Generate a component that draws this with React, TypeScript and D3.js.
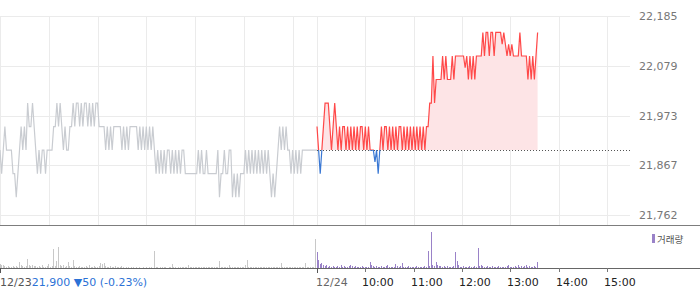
import React from 'react';
import * as d3 from 'd3';

const W = 700;
const H = 289;

const yTickValues = [21762, 21867.75, 21973.5, 22079.25, 22185];
const yTickLabels = ['21,762', '21,867', '21,973', '22,079', '22,185'];
const basePrice = 21900;
const intervalMin = 2;

const prevDateLabel = '12/23';
const todayDateLabel = '12/24';
const closeText = '21,900';
const changeText = ' \u25BC50 (-0.23%)';
const hourLabels = ['10:00', '11:00', '12:00', '13:00', '14:00', '15:00'];
const legendLabel = '거래량';

// 12/23 prices, one point every 2 minutes from 9:00 to 15:30
const prevPrices = [
  21900, 21850, 21900, 21950, 21900, 21900, 21900, 21900, 21850, 21850, 21800,
  21850, 21900, 21950, 21900, 21950, 21900, 22000, 21950, 21950, 22000, 21950, 21900,
  21850, 21900, 21850, 21900, 21900, 21850, 21900, 21900, 21900, 21900, 21950, 21950,
  22000, 21950, 22000, 21950, 21900, 21950, 21900, 21900, 21950, 21950,
  22000, 21950, 22000, 22000, 21950, 22000, 21950, 22000, 22000, 21950, 22000, 21950, 22000, 21950, 22000, 22000,
  21950, 21950, 21950, 21950,
  21900, 21950, 21900, 21950, 21900, 21950,
  21950, 21950, 21950, 21950,
  21900, 21950, 21900, 21950, 21900,
  21950, 21950, 21950, 21950, 21950,
  21900, 21950, 21900, 21950, 21900, 21950, 21900, 21950, 21900, 21950,
  21900,
  21850, 21900, 21850, 21900, 21850, 21900, 21850, 21900, 21900, 21850, 21900, 21850, 21900, 21850, 21900, 21850, 21900, 21900, 21850,
  21850, 21850, 21850, 21850, 21850, 21850, 21850,
  21900, 21850, 21900, 21850, 21850, 21900, 21850, 21850,
  21850, 21850, 21850, 21850,
  21900, 21800, 21850,
  21850, 21900, 21850, 21850, 21900,
  21900, 21800, 21850, 21800,
  21850, 21800, 21850,
  21850, 21850,
  21900, 21850, 21900, 21850, 21900, 21850, 21900, 21850, 21900, 21850, 21900, 21850, 21900, 21850, 21900,
  21850,
  21800, 21850, 21800, 21850, 21900,
  21950, 21900, 21950, 21900, 21950, 21900, 21900,
  21850, 21900, 21850, 21900, 21850, 21900, 21850, 21900, 21900, 21900,
  21900, 21900, 21900, 21900, 21900, 21900, 21900,
];

const prevVolumes = [
  4, 3, 3, 2, 1, 2, 1, 1, 2, 1, 2, 1,
  6, 3, 2, 1, 2,
  9, 3, 2, 3, 2, 2, 1, 2, 1, 3, 1, 1, 2,
  4, 1, 2, 19, 2, 7, 21, 3, 2, 3, 1, 2,
  6, 2, 1, 8, 2, 1, 1, 2, 1, 1, 1, 2, 1,
  3, 1, 1, 2, 1, 1, 2, 5, 4, 5,
  2, 1, 1, 2, 1, 1, 2, 1, 1, 1, 2, 1,
  0, 1, 1, 0, 1, 1, 0, 1, 0, 1, 0, 1, 0, 1, 0, 1, 1, 0,
  17,
  1, 1, 0, 1, 1, 1, 1, 0, 1, 1, 4, 1, 1, 0, 1, 1, 1, 1, 1, 1,
  3,
  1, 1, 1, 1, 1, 1, 1, 1, 1, 1, 1, 1, 1, 1, 1, 1, 1, 1,
  7,
  1, 1, 1, 1, 1, 3, 1, 1, 1, 1, 1, 1, 1, 1, 1, 3,
  8,
  1, 1, 1, 1, 1, 1, 1, 1, 1, 1, 1, 1, 1, 1, 1, 1, 1, 1, 1, 1,
  5,
  1, 1, 1, 1, 1, 1, 1, 1, 1, 1, 1, 1, 1, 1,
  5,
  1, 1, 1, 1, 1,
  29,
  0,
];

// 12/24 prices, one point every 2 minutes from 9:00 to 13:34
const todayPrices = [
  21950, 21900,
  21850,
  21900, 21950,
  22000, 22000, 22000, 21950,
  21900, 21950,
  22000, 21950,
  21900, 21950, 21900, 21950, 21950, 21900, 21950, 21900, 21950, 21900, 21950, 21900, 21950, 21900, 21950, 21950, 21900, 21950, 21900, 21950,
  21900, 21900, 21900,
  21875, 21900, 21850,
  21900, 21950, 21900, 21950, 21950, 21900, 21950, 21900, 21950, 21900, 21950, 21900, 21950, 21950, 21900,
  21950, 21900, 21950, 21900, 21950, 21900, 21950, 21900, 21950, 21900, 21950, 21900, 21950, 21900, 21950,
  21950, 22000, 22000,
  22100,
  22000, 22050,
  22050, 22050, 22050,
  22100, 22050, 22100, 22050,
  22050, 22050,
  22100, 22050,
  22100, 22100, 22100, 22100, 22100, 22100,
  22075, 22100,
  22050, 22100, 22050, 22100, 22050, 22100,
  22100, 22100, 22100,
  22150, 22100, 22150, 22150, 22100, 22150, 22150, 22100, 22150, 22150, 22150,
  22150, 22125, 22150,
  22125, 22100, 22125, 22100, 22125,
  22100, 22100, 22100, 22100,
  22150,
  22100, 22100, 22100, 22100,
  22050, 22100, 22050, 22100, 22050,
  22100,
  22150,
];

const todayVolumes = [
  16, 8, 4, 5, 3, 2, 3, 1, 2, 1, 2, 1, 1, 2, 1,
  3, 1, 2, 1, 1, 2, 3, 2, 1, 2, 1, 1, 1, 2, 1, 1, 1, 1,
  6, 3, 2, 1, 2, 1, 1, 2, 1, 1, 2, 3, 1, 1, 1, 1,
  4, 2, 1, 2, 5, 1, 1, 1, 2, 1, 1, 1, 1, 2, 1, 1, 1, 1, 2, 1,
  17, 2, 36, 3, 2, 6, 3, 2, 2, 1, 2, 1, 2, 1, 1, 1, 2,
  16, 7, 3, 1, 1, 2, 1, 1, 1, 2, 1, 1, 2, 1,
  20, 2, 3, 2, 1, 1, 2, 1, 1, 2, 1, 1, 1, 2, 1, 1, 1, 1, 2,
  3, 1, 1, 1, 2, 1, 3, 1, 2, 1, 2, 3, 1, 2, 1, 1, 2, 1, 6,
];

const FONT = "'DejaVu Sans', sans-serif";

type Pt = { t: Date; p: number; v: number };

function buildSeries(day: number, prices: number[], vols: number[]): Pt[] {
  return prices.map((p, i) => ({
    t: new Date(2024, 11, day, 9, i * intervalMin),
    p,
    v: vols[i] ?? 0,
  }));
}

export default function App() {
  const prev = buildSeries(23, prevPrices, prevVolumes);
  const today = buildSeries(24, todayPrices, todayVolumes);

  const plotRight = 630;
  const xPrev = d3
    .scaleTime()
    .domain([new Date(2024, 11, 23, 9, 0), new Date(2024, 11, 23, 15, 30)])
    .range([0, 317]);
  const xToday = d3
    .scaleTime()
    .domain([new Date(2024, 11, 24, 9, 0), new Date(2024, 11, 24, 15, 30)])
    .range([317, 631]);

  const y = d3.scaleLinear().domain([21762, 22185]).range([215, 16]);
  const yVol = d3.scaleLinear().domain([0, 42]).range([268, 226]);
  const yBase = y(basePrice);

  const prevLine = d3
    .line<Pt>()
    .x((d) => xPrev(d.t))
    .y((d) => y(d.p))(prev) as string;
  const todayLine = d3
    .line<Pt>()
    .x((d) => xToday(d.t))
    .y((d) => y(d.p))(today) as string;
  const todayArea = d3
    .area<Pt>()
    .x((d) => xToday(d.t))
    .y0(yBase)
    .y1((d) => y(d.p))(today) as string;

  const prevHours = d3.timeHour.range(
    new Date(2024, 11, 23, 9, 0),
    new Date(2024, 11, 23, 15, 1)
  );
  const todayHours = d3.timeHour.range(
    new Date(2024, 11, 24, 9, 0),
    new Date(2024, 11, 24, 15, 1)
  );

  const gridColor = '#ebebeb';

  return (
    <svg
      width={W}
      height={H}
      style={{ position: 'absolute', left: 0, top: 0, background: '#fff' }}
      fontFamily={FONT}
    >
      <defs>
        <clipPath id="above">
          <rect x={0} y={0} width={W} height={yBase} />
        </clipPath>
        <clipPath id="below">
          <rect x={0} y={yBase} width={W} height={226 - yBase} />
        </clipPath>
      </defs>

      {/* horizontal grid */}
      {yTickValues.map((v, i) => (
        <line
          key={'hg' + i}
          x1={0}
          x2={plotRight}
          y1={Math.round(y(v)) + 0.5}
          y2={Math.round(y(v)) + 0.5}
          stroke={gridColor}
        />
      ))}
      {/* vertical grid */}
      {prevHours.map((h, i) => (
        <line
          key={'pv' + i}
          x1={Math.round(xPrev(h)) + 0.5}
          x2={Math.round(xPrev(h)) + 0.5}
          y1={16}
          y2={225}
          stroke={gridColor}
        />
      ))}
      {todayHours.map((h, i) => (
        <line
          key={'tv' + i}
          x1={Math.round(xToday(h)) + 0.5}
          x2={Math.round(xToday(h)) + 0.5}
          y1={16}
          y2={225}
          stroke={gridColor}
        />
      ))}

      {/* today's area */}
      <path d={todayArea} fill="#fde4e6" clipPath="url(#above)" />

      {/* previous day line */}
      <path d={prevLine} fill="none" stroke="#c9ccd1" strokeWidth={1.2} />

      {/* baseline */}
      <line
        x1={317}
        x2={plotRight}
        y1={Math.round(yBase) + 0.5}
        y2={Math.round(yBase) + 0.5}
        stroke="#555"
        strokeDasharray="1,2"
      />

      {/* today's line */}
      <path
        d={todayLine}
        fill="none"
        stroke="#ff2a2a"
        strokeOpacity={0.85}
        strokeWidth={1.2}
        clipPath="url(#above)"
      />
      <path
        d={todayLine}
        fill="none"
        stroke="#3a78d4"
        strokeWidth={1.2}
        clipPath="url(#below)"
      />

      {/* right axis labels */}
      {yTickValues.map((v, i) => (
        <text
          key={'yl' + i}
          x={639}
          y={y(v) + 4}
          fontSize={11}
          fill="#777"
        >
          {yTickLabels[i]}
        </text>
      ))}

      {/* separator */}
      <line x1={0} x2={W} y1={225.5} y2={225.5} stroke="#7d7d7d" strokeWidth={1} />

      {/* volume bars */}
      {prev.map((d, i) =>
        d.v > 0 ? (
          <rect
            key={'pb' + i}
            x={Math.floor(xPrev(d.t))}
            y={yVol(d.v)}
            width={1}
            height={268 - yVol(d.v)}
            fill="#c8c8c8"
          />
        ) : null
      )}
      {today.map((d, i) =>
        d.v > 0 ? (
          <rect
            key={'tb' + i}
            x={Math.floor(xToday(d.t))}
            y={yVol(d.v)}
            width={1}
            height={268 - yVol(d.v)}
            fill="#9a82c8"
          />
        ) : null
      )}

      {/* volume legend */}
      <rect x={652} y={234} width={3} height={9} fill="#9a82c8" />
      <text x={657} y={242.5} fontSize={9.5} fill="#555" fontFamily="'Noto Sans CJK KR', sans-serif">
        {legendLabel}
      </text>

      {/* bottom axis */}
      <line x1={0} x2={W} y1={268.5} y2={268.5} stroke="#666" />
      <line x1={0.5} x2={0.5} y1={268} y2={273} stroke="#555" />
      <line x1={317.5} x2={317.5} y1={268} y2={273} stroke="#555" />
      {todayHours.slice(1).map((h, i) => (
        <line
          key={'tt' + i}
          x1={Math.round(xToday(h)) + 0.5}
          x2={Math.round(xToday(h)) + 0.5}
          y1={268}
          y2={272}
          stroke="#777"
        />
      ))}
      <text x={0} y={286} fontSize={11} fill="#555">
        {prevDateLabel}
        <tspan fill="#2c72d6">{closeText}</tspan>
        <tspan fill="#2c72d6">{changeText}</tspan>
      </text>
      <text x={316} y={286} fontSize={11} fill="#666">
        {todayDateLabel}
      </text>
      {todayHours.slice(1).map((h, i) => (
        <text
          key={'hl' + i}
          x={Math.round(xToday(h)) - 3}
          y={286}
          fontSize={11}
          fill="#222"
        >
          {hourLabels[i]}
        </text>
      ))}
    </svg>
  );
}
